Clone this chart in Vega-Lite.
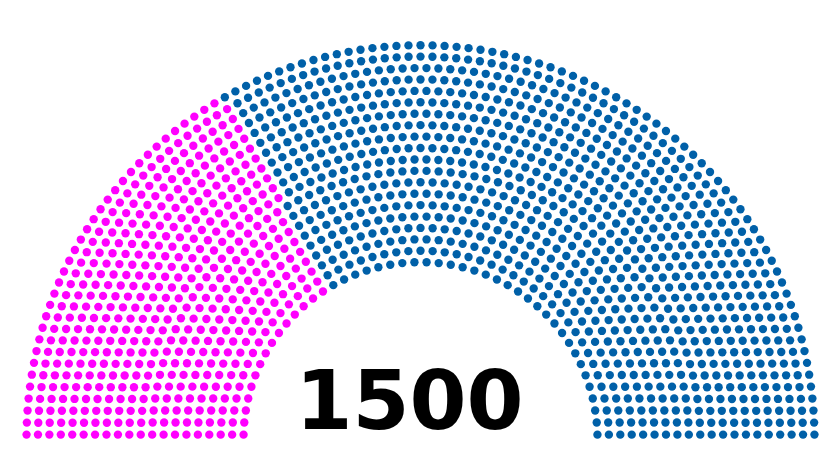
{
  "$schema": "https://vega.github.io/schema/vega-lite/v6.json",
  "width": 840,
  "height": 460,
  "autosize": {"type": "fit", "contains": "padding"},
  "padding": 0,
  "background": "#ffffff",
  "config": {"view": {"stroke": null}},
  "datasets": {
    "parties": [
      {"party": "A", "seats": 500, "order": 1},
      {"party": "B", "seats": 1000, "order": 2}
    ]
  },
  "layer": [
    {
      "data": {"name": "parties"},
      "transform": [
        {"window": [{"op": "sum", "field": "seats", "as": "cum"}], "sort": [{"field": "order"}], "frame": [null, 0]},
        {"joinaggregate": [{"op": "sum", "field": "seats", "as": "total"}]},
        {"calculate": "datum.cum - datum.seats", "as": "start"},
        {"calculate": "sequence(0, 2200)", "as": "slot"},
        {"flatten": ["slot"]},
        {"calculate": "floor(datum.slot / 110) + 1", "as": "ring"},
        {"calculate": "datum.slot % 110", "as": "j"},
        {"calculate": "(3 * 20 + 4 * datum.ring - 2) / (4 * 20)", "as": "R"},
        {"calculate": "floor(datum.total / 1560 * PI / (2 * asin(2 / (3 * 20 + 4 * datum.ring - 2))))", "as": "Jinner"},
        {"filter": "datum.ring < 20 ? datum.j < datum.Jinner : true"},
        {"calculate": "datum.ring < 20 ? 1 : 0", "as": "isInner"},
        {"joinaggregate": [{"op": "sum", "field": "isInner", "as": "nInner"}], "groupby": ["party"]},
        {"calculate": "datum.ring < 20 ? datum.Jinner : datum.total - datum.nInner", "as": "J"},
        {"filter": "datum.j < datum.J"},
        {"calculate": "sin(0.02 / datum.R)", "as": "off"},
        {"calculate": "datum.J == 1 ? PI / 2 : datum.j * (PI - 2 * datum.off) / (datum.J - 1) + datum.off", "as": "angle"},
        {"calculate": "datum.R * cos(datum.angle)", "as": "px"},
        {"calculate": "datum.R * sin(datum.angle)", "as": "py"},
        {"window": [{"op": "row_number", "as": "pos"}], "sort": [{"field": "angle", "order": "descending"}], "groupby": ["party"]},
        {"filter": "datum.pos > datum.start && datum.pos <= datum.cum"}
      ],
      "mark": {"type": "point", "filled": true, "shape": "circle", "size": 70, "opacity": 1, "strokeWidth": 0},
      "encoding": {
        "x": {"field": "px", "type": "quantitative", "scale": {"domain": [-1.8411, 1.8367], "nice": false, "zero": false}, "axis": null},
        "y": {"field": "py", "type": "quantitative", "scale": {"domain": [-0.0911, 1.9229], "nice": false, "zero": false}, "axis": null},
        "color": {"field": "party", "type": "nominal", "scale": {"domain": ["A", "B"], "range": ["#FF00FF", "#0060A8"]}, "legend": null}
      }
    },
    {
      "data": {"name": "parties"},
      "transform": [
        {"aggregate": [{"op": "sum", "field": "seats", "as": "total"}]}
      ],
      "mark": {"type": "text", "font": "DejaVu Sans", "fontSize": 82, "fontWeight": "bold", "align": "center", "baseline": "alphabetic", "color": "#000000"},
      "encoding": {
        "x": {"datum": -0.048, "type": "quantitative"},
        "y": {"datum": 0.0447, "type": "quantitative"},
        "text": {"field": "total", "type": "quantitative"}
      }
    }
  ]
}
